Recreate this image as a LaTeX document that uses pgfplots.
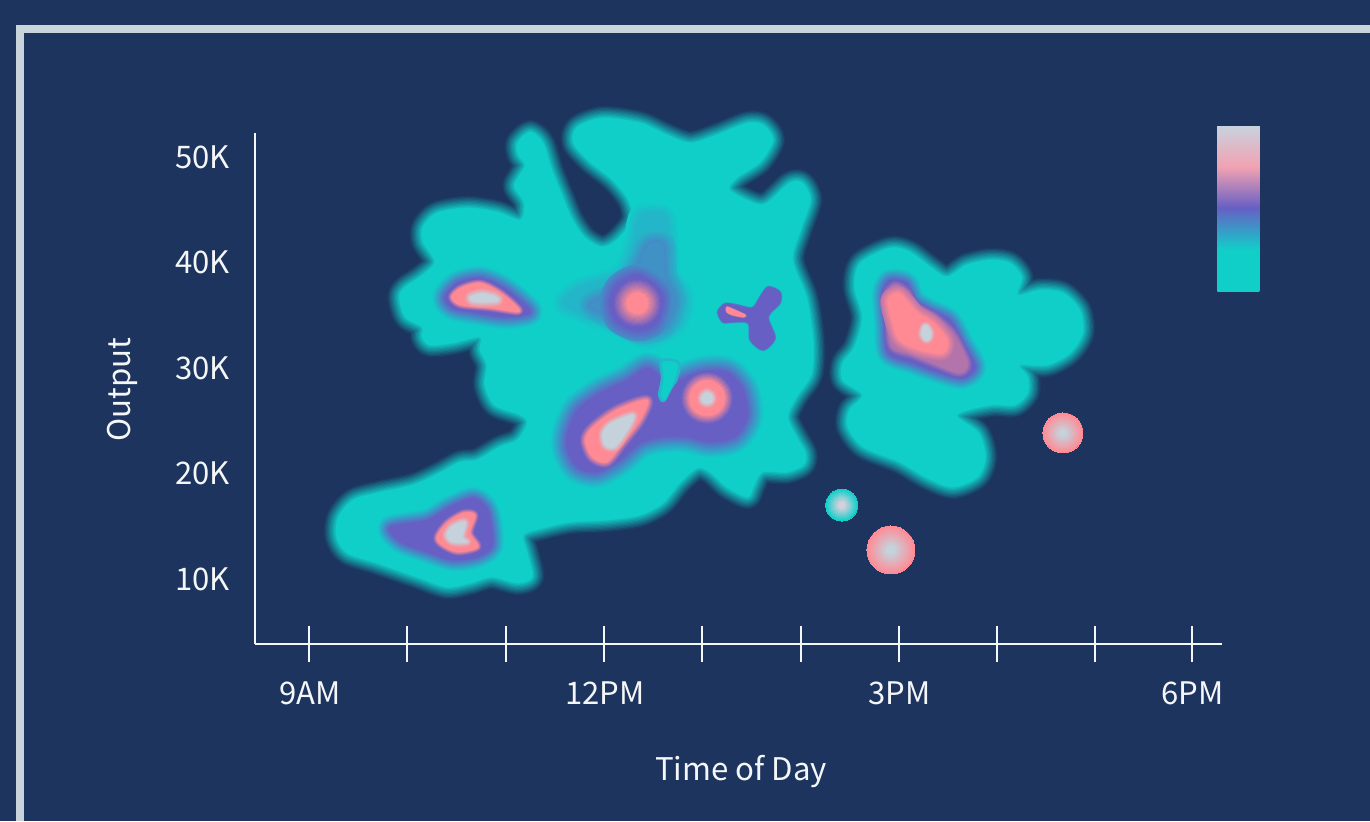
\documentclass[border=0pt]{standalone}
\usepackage{pgfplots}
\usepackage{pgfplotstable}
\usepackage{fontspec}
\setmainfont{Noto Sans CJK SC}
\pgfplotsset{compat=1.18}
\definecolor{bgc}{HTML}{1C345E}
\definecolor{framec}{HTML}{C9D3DC}
\definecolor{tealc}{HTML}{10CFC9}
\definecolor{purp}{HTML}{675FC4}
\definecolor{pinkc}{HTML}{FF8A94}
\definecolor{greyc}{HTML}{C5D2DC}
\definecolor{lavc}{HTML}{D5D0DC}
\definecolor{barpink}{HTML}{F2A2B2}
\definecolor{bargrey}{HTML}{C9D2DE}
\definecolor{txt}{HTML}{F4F6F8}
\pgfdeclareverticalshading{cbar}{31.5pt}{color(0pt)=(tealc); color(31.5pt)=(tealc); color(63pt)=(purp); color(93.75pt)=(barpink); color(124.5pt)=(bargrey)}

\newcommand{\Halo}[4]{%
 \pgfplotsinvokeforeach{5,15,25,35,45,55,65,75,85,95}{%
  \addplot[forget plot,no markers,smooth cycle,line join=round,draw={#4!##1!#3},fill=none,line width={2*#2*0.75pt*(1-##1/100)}] table {#1};}}
\newcommand{\Fil}[2]{\addplot[forget plot,no markers,smooth cycle,draw=none,fill=#2] table {#1};}
\newcommand{\Ring}[6]{%
 \pgfplotsinvokeforeach{0,8,16,24,32,40,48,56,64,72,80,88,96,100}{%
  \addplot[forget plot,only marks,mark=*,mark size={(#3+(#4-#3)*##1/100)*0.75pt},mark options={line width=0pt,draw={#6!##1!#5},fill={#6!##1!#5}}] coordinates {(#1,#2)};}}

\pgfplotstableread{
x y
11.25 52.37
11.12 51.33
11.13 50.19
11.20 49.24
11.13 48.10
11.09 47.16
11.19 45.64
11.15 44.03
10.91 44.79
10.61 45.17
10.30 44.69
10.16 43.37
10.16 41.94
10.28 40.05
10.13 38.63
9.98 37.68
9.92 36.73
9.98 34.83
10.15 33.89
10.15 32.94
10.23 32.18
10.46 32.37
10.74 32.94
10.74 31.71
10.81 30.28
10.79 28.39
10.89 26.49
11.15 25.55
11.22 24.79
11.12 23.18
10.94 22.51
10.71 21.28
10.54 21.09
10.33 20.05
10.06 18.91
9.69 18.15
9.45 17.49
9.30 15.88
9.28 13.98
9.39 12.46
9.69 11.52
10.10 10.19
10.40 9.24
10.64 9.62
10.86 10.19
11.12 9.62
11.27 10.19
11.22 12.46
11.18 14.17
11.38 14.83
11.66 15.40
12.03 15.59
12.37 16.07
12.60 17.20
12.77 19.10
12.95 20.52
13.08 20.14
13.25 18.72
13.46 17.77
13.52 18.72
13.61 20.14
13.86 20.14
14.03 20.81
14.05 21.94
13.96 23.46
13.87 25.36
13.96 27.25
14.10 29.15
14.13 31.04
14.12 33.32
14.06 36.73
13.92 40.24
14.00 43.08
14.10 45.92
14.02 47.54
13.89 47.54
13.66 45.64
13.52 45.64
13.28 46.87
13.35 48.01
13.59 49.53
13.72 51.61
13.62 53.03
13.46 53.22
13.15 52.09
12.88 51.33
12.64 52.09
12.37 53.22
11.99 53.70
11.73 52.84
11.69 51.33
11.86 49.53
12.09 47.82
12.25 45.92
12.29 44.03
12.13 42.13
11.98 41.47
11.81 42.32
11.68 44.03
11.58 46.21
11.47 48.77
11.38 51.33
}\tMain
\pgfplotstableread{
x y
14.91 41.37
14.61 39.95
14.55 37.68
14.63 34.83
14.55 31.99
14.43 30.47
14.43 28.86
14.63 27.44
14.50 26.02
14.48 24.41
14.64 22.51
15.01 21.09
15.29 19.57
15.55 18.72
15.80 19.67
15.88 21.56
15.81 23.84
15.59 25.55
15.93 26.49
16.18 26.49
16.31 27.63
16.31 29.15
16.23 30.28
16.51 30.28
16.74 31.42
16.87 33.32
16.84 35.50
16.67 37.11
16.44 37.39
16.21 36.92
16.25 38.63
16.13 39.95
15.93 40.24
15.69 39.76
15.49 38.63
15.32 39.57
15.11 41.00
}\tRight
\pgfplotstableread{
x y
10.38 36.73
10.51 38.06
10.74 38.53
10.97 37.68
11.18 36.16
11.25 35.21
11.01 34.83
10.71 35.21
10.46 35.69
}\tAp
\pgfplotstableread{
x y
10.45 36.73
10.54 37.58
10.74 38.06
10.94 37.20
11.12 35.78
11.12 35.31
10.84 35.69
10.54 35.97
}\tAk
\pgfplotstableread{
x y
10.64 36.73
10.76 37.05
10.90 36.73
10.92 36.35
10.77 36.26
10.66 36.35
}\tAg
\pgfplotstableread{
x y
12.37 44.50
12.62 44.50
12.67 42.13
12.69 38.82
12.83 36.73
12.75 34.08
12.44 32.65
12.13 33.89
11.76 35.21
11.58 36.16
11.76 37.68
12.16 39.00
12.30 41.85
}\tBa
\pgfplotstableread{
x y
12.45 41.66
12.60 41.66
12.62 38.82
12.72 36.45
12.62 34.08
12.37 33.41
12.11 34.74
11.86 35.97
12.11 37.20
12.32 39.29
}\tBb
\pgfplotstableread{
x y
12.34 38.82
12.57 37.39
12.60 35.97
12.52 34.08
12.34 33.51
12.13 34.36
12.06 36.16
12.13 37.87
}\tBc
\pgfplotstableread{
x y
13.16 35.31
13.23 36.07
13.35 35.97
13.51 35.69
13.59 36.73
13.67 37.68
13.79 37.20
13.79 36.16
13.67 34.83
13.74 32.84
13.62 31.71
13.49 32.65
13.47 34.27
13.31 34.36
13.21 34.36
}\tYp
\pgfplotstableread{
x y
13.25 35.78
13.33 35.50
13.44 35.02
13.42 34.83
13.31 35.02
13.25 35.31
}\tYk
\pgfplotstableread{
x y
11.63 23.84
11.73 26.02
11.96 27.63
12.24 28.86
12.44 30.00
12.57 29.05
12.54 27.25
12.62 26.78
12.74 28.58
12.98 29.62
13.25 29.62
13.42 27.91
13.46 25.36
13.33 23.46
13.08 22.99
12.85 23.46
12.60 23.46
12.37 22.89
12.16 21.28
11.93 20.14
11.73 20.62
11.63 22.23
}\tDp
\pgfplotstableread{
x y
12.60 30.57
12.75 30.38
12.71 28.67
12.62 26.97
12.58 27.54
12.61 29.05
}\tDw
\pgfplotstableread{
x y
11.81 23.18
11.89 24.41
12.13 26.02
12.44 26.97
12.37 25.07
12.19 22.89
12.03 21.09
11.88 21.56
}\tDk
\pgfplotstableread{
x y
11.99 23.84
12.08 24.79
12.30 25.55
12.25 24.31
12.11 22.51
12.01 22.70
}\tDg
\pgfplotstableread{
x y
9.82 14.93
10.20 15.59
10.43 16.82
10.67 17.68
10.81 16.73
10.86 14.93
10.86 13.03
10.71 12.09
10.46 11.80
10.20 12.56
9.93 13.51
}\tEp
\pgfplotstableread{
x y
10.30 13.98
10.40 15.31
10.57 16.26
10.69 16.07
10.64 14.36
10.72 13.03
10.51 12.56
10.35 13.22
}\tEk
\pgfplotstableread{
x y
10.40 14.17
10.46 15.02
10.59 15.40
10.56 13.98
10.61 13.51
10.46 13.51
}\tEg
\pgfplotstableread{
x y
14.84 37.11
14.91 38.34
15.08 38.06
15.16 36.45
15.32 35.50
15.52 34.55
15.65 32.37
15.78 30.09
15.65 29.05
15.42 29.53
15.14 30.47
14.89 31.42
14.86 34.27
}\tFp
\pgfplotstableread{
x y
14.86 36.73
14.96 37.87
15.09 37.20
15.16 35.97
15.35 35.02
15.55 33.32
15.70 30.47
15.62 29.53
15.39 30.28
15.14 31.23
14.93 31.99
14.89 34.55
}\tFm
\pgfplotstableread{
x y
14.89 36.45
14.99 37.11
15.09 36.26
15.19 35.21
15.35 34.27
15.49 32.65
15.45 31.42
15.22 31.71
15.01 32.65
14.93 34.55
}\tFk
\pgfplotstableread{
x y
15.25 33.95
15.29 34.02
15.33 33.32
15.31 32.70
15.27 32.62
15.23 33.13
}\tFg

\begin{document}
\begin{tikzpicture}
\fill[bgc] (0,0) rectangle (1027.5pt,615.75pt);
\fill[framec] (12pt,0pt) rectangle (18pt,597pt);
\fill[framec] (12pt,591pt) rectangle (1027.5pt,597pt);
\begin{axis}[
  at={(191.25pt,132.75pt)},anchor=south west,
  scale only axis,width=725.25pt,height=383.25pt,
  xmin=8.4507,xmax=18.288,ymin=3.839,ymax=52.275,
  clip=false,
  axis x line*=bottom,axis y line*=left,
  axis line style={draw=txt,line width=1.5pt,-},
  xtick={9,10,11,12,13,14,15,16,17,17.98},
  xticklabels={9AM,,,12PM,,,3PM,,,6PM},
  ytick={10,20,30,40,50},
  yticklabels={10K,20K,30K,40K,50K},
  tick align=center,
  major tick length=26.25pt,
  xtick style={draw=txt,line width=1.5pt},
  ytick style={draw=none},
  tick label style={font=\fontsize{23.3pt}{28pt}\selectfont,text=txt},
  label style={font=\fontsize{23.4pt}{28pt}\selectfont,text=txt},
  yticklabel style={anchor=east,xshift=-2.25pt},
  xticklabel style={anchor=center,yshift=-23.5pt,xshift=0.75pt},
  xlabel={Time of Day},ylabel={Output},
  x label style={at={(axis description cs:0.5026,-0.2505)},anchor=center},
  y label style={at={(axis description cs:-0.1375,0.498)},anchor=center,rotate=0},
]
% teal regions
\Halo{\tMain}{13}{bgc}{tealc}
\Halo{\tRight}{13}{bgc}{tealc}
\Fil{\tMain}{tealc}
\Fil{\tRight}{tealc}
% upper left peak
\Halo{\tAp}{13}{tealc}{purp}
\Fil{\tAp}{purp}
\Halo{\tAk}{4}{purp}{pinkc}
\Fil{\tAk}{pinkc}
\Halo{\tAg}{6}{pinkc}{greyc}
\Fil{\tAg}{greyc}
% central peak with its tail
\Halo{\tBa}{11}{tealc}{tealc!78!purp}
\Fil{\tBa}{tealc!78!purp}
\Halo{\tBb}{13}{tealc!78!purp}{tealc!45!purp}
\Fil{\tBb}{tealc!45!purp}
\Halo{\tBc}{11}{tealc!45!purp}{purp}
\Fil{\tBc}{purp}
\Ring{12.34}{36.16}{24}{10}{purp}{pinkc}
\Ring{12.34}{36.16}{10}{0}{pinkc}{pinkc}
% Y shape
\Halo{\tYp}{1.5}{tealc}{purp}
\Fil{\tYp}{purp}
\Halo{\tYk}{1}{purp}{pinkc}
\Fil{\tYk}{pinkc}
% lower centre pair
\Halo{\tDp}{17}{tealc}{purp}
\Halo{\tDw}{3}{tealc!80!purp}{tealc}
\Fil{\tDw}{tealc}
\Fil{\tDp}{purp}
\Halo{\tDk}{6}{purp}{pinkc}
\Fil{\tDk}{pinkc}
\Halo{\tDg}{5}{pinkc}{greyc}
\Fil{\tDg}{greyc}
\Ring{13.05}{27.16}{26}{17}{purp}{pinkc}
\Ring{13.05}{27.16}{17}{10}{pinkc}{pinkc}
\Ring{13.05}{27.16}{10}{5}{pinkc}{greyc}
\Ring{13.05}{27.16}{5}{0}{greyc}{greyc}
% lower left peak
\Halo{\tEp}{12}{tealc}{purp}
\Fil{\tEp}{purp}
\Halo{\tEk}{4}{purp}{pinkc}
\Fil{\tEk}{pinkc}
\Halo{\tEg}{5}{pinkc}{greyc}
\Fil{\tEg}{greyc}
% right peak
\Halo{\tFp}{12}{tealc}{purp}
\Fil{\tFp}{purp}
\Halo{\tFm}{5}{purp}{purp!50!pinkc}
\Fil{\tFm}{purp!50!pinkc}
\Halo{\tFk}{8}{purp!50!pinkc}{pinkc}
\Fil{\tFk}{pinkc}
\Halo{\tFg}{4}{pinkc}{greyc}
\Fil{\tFg}{greyc}
% isolated discs
\Ring{14.92}{12.75}{24}{4}{pinkc}{greyc}
\Ring{14.92}{12.75}{4}{0}{greyc}{greyc}
\Ring{16.67}{23.84}{20}{3}{pinkc}{greyc}
\Ring{16.67}{23.84}{3}{0}{greyc}{greyc}
\Ring{14.42}{17.01}{16}{3}{tealc}{lavc}
\Ring{14.42}{17.01}{3}{0}{lavc}{lavc}
\end{axis}
\node[inner sep=0pt,anchor=south west] at (912.75pt,396.75pt) {\pgfuseshading{cbar}};
\end{tikzpicture}
\end{document}
